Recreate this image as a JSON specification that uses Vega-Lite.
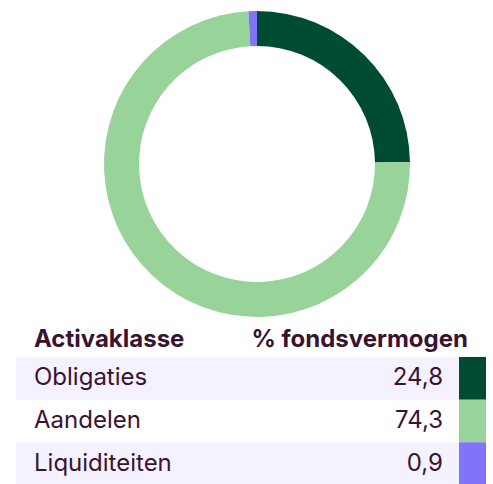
{
  "$schema": "https://vega.github.io/schema/vega-lite/v6.json",
  "padding": 0,
  "background": "white",
  "spacing": 0,
  "config": {"view": {"stroke": null}, "font": "Inter", "concat": {"spacing": 0}},
  "datasets": {
    "alloc": [
      {"klasse": "Obligaties", "pct": 24.8, "label": "24,8", "rang": 1},
      {"klasse": "Aandelen", "pct": 74.3, "label": "74,3", "rang": 2},
      {"klasse": "Liquiditeiten", "pct": 0.9, "label": "0,9", "rang": 3}
    ]
  },
  "vconcat": [
    {
      "spacing": 0,
      "hconcat": [
        {"width": 21, "height": 328, "data": {"values": []}, "mark": "point", "encoding": {}},
        {
          "width": 472,
          "height": 328,
          "data": {"name": "alloc"},
          "mark": {"type": "arc", "outerRadius": 153, "innerRadius": 118},
          "encoding": {
            "theta": {"field": "pct", "type": "quantitative", "stack": true},
            "order": {"field": "rang", "type": "quantitative"},
            "color": {
              "field": "klasse",
              "type": "nominal",
              "scale": {"domain": ["Obligaties", "Aandelen", "Liquiditeiten"], "range": ["#004c32", "#98d39a", "#8273fb"]},
              "legend": null
            }
          }
        }
      ]
    },
    {
      "width": 493,
      "height": 28,
      "data": {"values": [{"kop": 1}]},
      "layer": [
        {
          "mark": {"type": "text", "text": "Activaklasse", "align": "left", "baseline": "alphabetic", "fontSize": 24, "fontWeight": "bold", "color": "#3a1330"},
          "encoding": {"x": {"value": 34}, "y": {"value": 18}}
        },
        {
          "mark": {"type": "text", "text": "% fondsvermogen", "align": "right", "baseline": "alphabetic", "fontSize": 24, "fontWeight": "bold", "color": "#3a1330"},
          "encoding": {"x": {"value": 468}, "y": {"value": 18}}
        }
      ]
    },
    {
      "width": 493,
      "height": 128,
      "data": {"name": "alloc"},
      "encoding": {
        "y": {
          "field": "klasse",
          "type": "nominal",
          "sort": ["Obligaties", "Aandelen", "Liquiditeiten"],
          "axis": null,
          "scale": {"paddingInner": 0, "paddingOuter": 0}
        }
      },
      "layer": [
        {
          "transform": [{"filter": "datum.klasse !== 'Aandelen'"}],
          "mark": {"type": "rect", "fill": "#f4f2fe"},
          "encoding": {"x": {"value": 16}, "x2": {"value": 459}}
        },
        {
          "mark": {"type": "rect"},
          "encoding": {
            "x": {"value": 459},
            "x2": {"value": 486},
            "color": {
              "field": "klasse",
              "type": "nominal",
              "scale": {"domain": ["Obligaties", "Aandelen", "Liquiditeiten"], "range": ["#004c32", "#98d39a", "#8273fb"]},
              "legend": null
            }
          }
        },
        {
          "mark": {"type": "text", "align": "left", "baseline": "middle", "fontSize": 24, "color": "#3a1330"},
          "encoding": {"x": {"value": 34}, "text": {"field": "klasse"}}
        },
        {
          "mark": {"type": "text", "align": "right", "baseline": "middle", "fontSize": 24, "color": "#3a1330"},
          "encoding": {"x": {"value": 443}, "text": {"field": "label"}}
        }
      ]
    }
  ]
}
